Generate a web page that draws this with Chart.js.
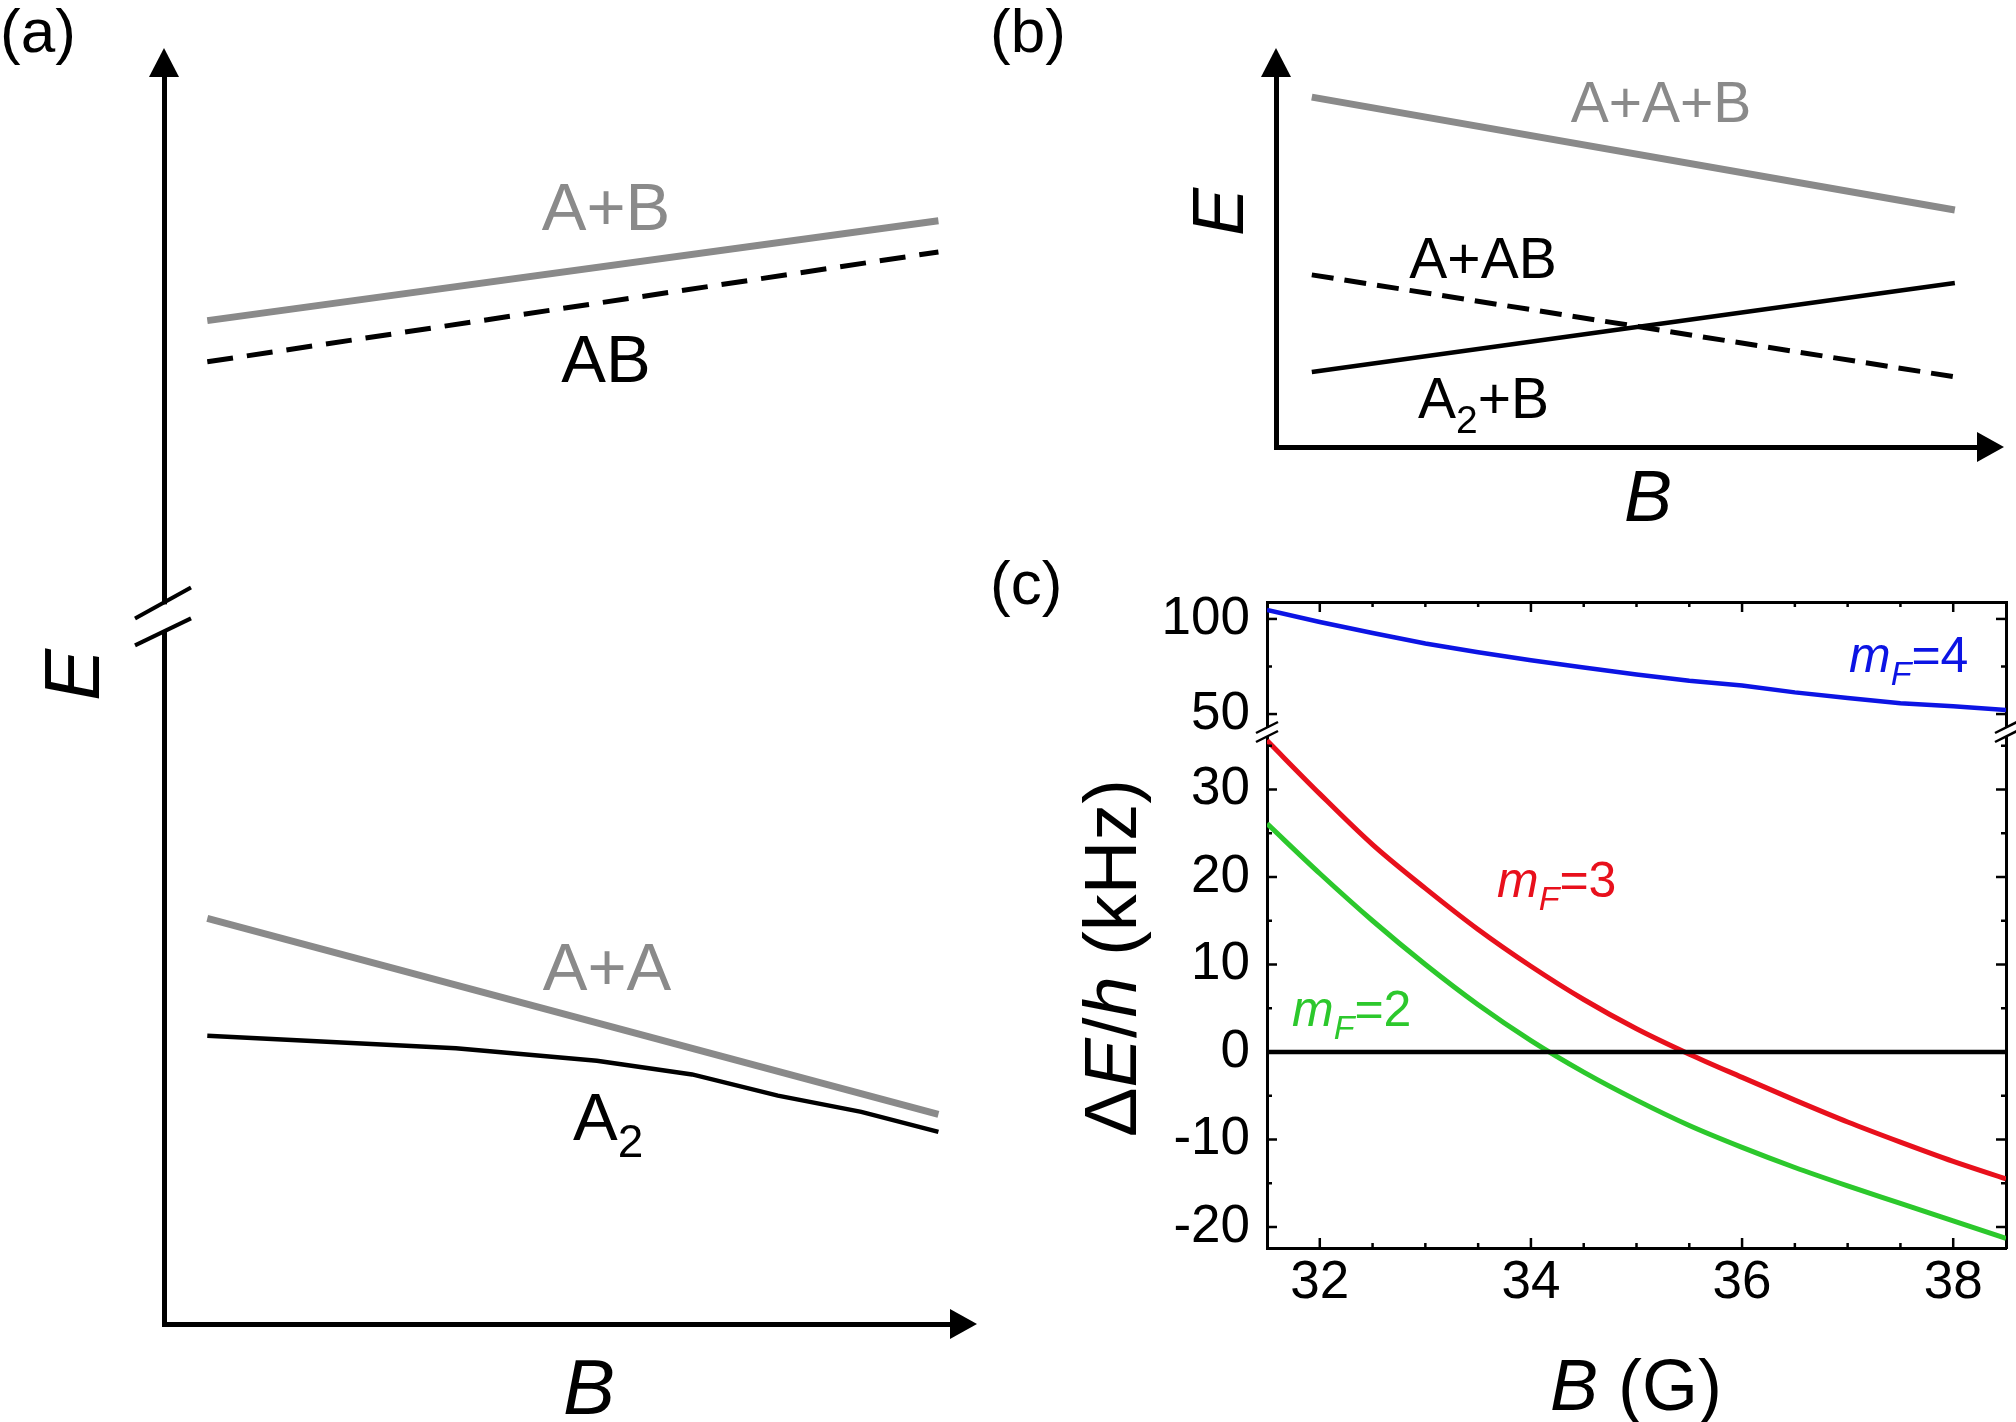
<!DOCTYPE html>
<html>
<head>
<meta charset="utf-8">
<script src="https://cdn.jsdelivr.net/npm/chart.js@4.4.1/dist/chart.umd.min.js"></script>
<style>
  html, body { margin: 0; padding: 0; background: #fff; }
  #wrap { position: relative; width: 2016px; height: 1422px; overflow: hidden; }
  #wrap canvas { position: absolute; left: 0; top: 0; }
</style>
</head>
<body>
<div id="wrap">
  <canvas id="panelA" width="2016" height="1422"></canvas>
  <canvas id="panelB" width="2016" height="1422"></canvas>
  <canvas id="panelCTop" width="2016" height="1422"></canvas>
  <canvas id="panelCBottom" width="2016" height="1422"></canvas>
</div>
<script>
// (a) schematic: energies vs B, arbitrary units (x 0-10, E 0-100)
const aField = [0.55, 9.84];
const aEnergyAplusB = [80.4, 88.4];
const aEnergyAB = [77.1, 85.9];
const aEnergyAplusA = [32.5, 16.8];
const aFieldA2 = [0.55, 3.71, 5.50, 6.71, 7.80, 8.86, 9.84];
const aEnergyA2 = [23.1, 22.1, 21.1, 20.0, 18.3, 17.0, 15.4];
const aBreakE = 56.7;

// (b) schematic
const bField = [0.51, 9.67];
const bEnergyAAB = [94.3, 63.9];
const bEnergyA_AB = [46.4, 18.9];
const bEnergyA2_B = [20.2, 44.2];

// (c) shifts in kHz vs B in G
const cField = [31.5, 32, 32.5, 33, 33.5, 34, 34.5, 35, 35.5, 36, 36.5, 37, 37.5, 38, 38.5];
const cShiftMf4 = [104.7, 98.4, 92.6, 87.1, 82.5, 78.3, 74.5, 70.8, 67.5, 65.0, 61.4, 58.5, 55.7, 54.1, 52.1];
const cShiftMf3 = [35.6, 29.5, 23.7, 18.7, 14.0, 9.8, 6.0, 2.65, -0.25, -2.9, -5.5, -8.0, -10.3, -12.5, -14.5];
const cShiftMf2 = [26.1, 20.4, 15.0, 10.0, 5.4, 1.3, -2.3, -5.5, -8.4, -10.9, -13.2, -15.3, -17.3, -19.3, -21.3];
const cXLabels = [32, 34, 36, 38];
const cXTickMarks = [32, 32.5, 33, 33.5, 34, 34.5, 35, 35.5, 36, 36.5, 37, 37.5, 38];
const cYLabelsTop = [50, 100];
const cYTickMarksTop = [50, 75, 100];
const cYLabelsBottom = [-20, -10, 0, 10, 20, 30];
const cYTickMarksBottom = [-20, -15, -10, -5, 0, 5, 10, 15, 20, 25, 30, 35];

const FONT = "'Liberation Sans', Arial, Helvetica, sans-serif";
const GRAY = '#8a8a8a';
const BLUE = '#0c14e4';
const RED = '#e8101c';
const GREEN = '#2cc82c';

Chart.defaults.font.family = FONT;
Chart.defaults.color = '#000';

const fitTo = size => s => { if (s.isHorizontal()) s.height = size; else s.width = size; };

function ds(xs, ys, color, width, dash, smooth) {
  return {
    data: xs.map((x, i) => ({x: x, y: ys[i]})),
    borderColor: color,
    borderWidth: width,
    borderDash: dash || [],
    borderCapStyle: 'butt',
    pointRadius: 0,
    fill: false,
    tension: smooth ? 0.4 : 0,
    cubicInterpolationMode: smooth ? 'monotone' : 'default',
    xAxisID: 'x',
    yAxisID: 'y'
  };
}

function baseOptions(pad) {
  return {
    responsive: false,
    animation: false,
    devicePixelRatio: 1,
    events: [],
    layout: {padding: pad},
    plugins: {legend: {display: false}, tooltip: {enabled: false}, title: {display: false}}
  };
}

function plainAxis(min, max, position, width) {
  return {
    type: 'linear', position: position, min: min, max: max,
    ticks: {display: false},
    grid: {display: false, drawTicks: false},
    border: {display: true, color: '#000', width: width},
    afterFit: fitTo(0)
  };
}

// labelled axes keep a fixed box size (labels are clipped to the scale box)
function frameAxis(min, max, position, marks, labels, pad, box) {
  return {
    type: 'linear', position: position, min: min, max: max,
    grid: {display: false, drawTicks: false},
    border: {display: true, color: '#000', width: 3},
    ticks: {
      display: !!labels, autoSkip: false, maxRotation: 0, padding: pad || 0,
      color: '#000', font: {size: 53},
      callback: v => (labels && labels.includes(v)) ? String(v) : ''
    },
    afterBuildTicks: s => { s.ticks = marks.map(v => ({value: v})); },
    afterFit: fitTo(box || 0)
  };
}

function rich(ctx, parts, x, y, size, align, color) {
  const f = p => (p.i ? 'italic ' : '') + (p.s ? Math.round(size * 0.68) : size) + 'px ' + FONT;
  let w = 0;
  parts.forEach(p => { ctx.font = f(p); w += ctx.measureText(p.t).width; });
  let cx = align === 'center' ? x - w / 2 : x;
  ctx.fillStyle = color;
  ctx.textAlign = 'left';
  ctx.textBaseline = 'alphabetic';
  parts.forEach(p => {
    ctx.font = f(p);
    ctx.fillText(p.t, cx, y + (p.s ? size * 0.26 : 0));
    cx += ctx.measureText(p.t).width;
  });
}

function richUp(ctx, parts, cx, cy, size, color) {
  ctx.save();
  ctx.translate(cx, cy);
  ctx.rotate(-Math.PI / 2);
  rich(ctx, parts, 0, size * 0.36, size, 'center', color);
  ctx.restore();
}

function seg(ctx, x1, y1, x2, y2) {
  ctx.beginPath(); ctx.moveTo(x1, y1); ctx.lineTo(x2, y2); ctx.stroke();
}

function arrows(ctx, a) {
  ctx.fillStyle = '#000';
  ctx.beginPath();
  ctx.moveTo(a.left, a.top - 28); ctx.lineTo(a.left - 15, a.top + 1); ctx.lineTo(a.left + 15, a.top + 1);
  ctx.closePath(); ctx.fill();
  ctx.beginPath();
  ctx.moveTo(a.right + 26, a.bottom); ctx.lineTo(a.right - 1, a.bottom - 15); ctx.lineTo(a.right - 1, a.bottom + 15);
  ctx.closePath(); ctx.fill();
}

const innerTicks = majors => ({
  id: 'innerTicks',
  afterDraw(chart) {
    const ctx = chart.ctx, a = chart.chartArea;
    ctx.save();
    ctx.strokeStyle = '#000';
    ctx.lineWidth = 2.5;
    Object.keys(majors).forEach(id => {
      const s = chart.scales[id];
      const pos = s.options.position;
      s.ticks.forEach(t => {
        const len = majors[id].includes(t.value) ? 10 : 5;
        const p = s.getPixelForValue(t.value);
        if (pos === 'left') seg(ctx, a.left, p, a.left + len, p);
        else if (pos === 'right') seg(ctx, a.right, p, a.right - len, p);
        else if (pos === 'bottom') seg(ctx, p, a.bottom, p, a.bottom - len);
        else seg(ctx, p, a.top, p, a.top + len);
      });
    });
    ctx.restore();
  }
});

// ---------- panel (a)
const panelADeco = {
  id: 'panelADeco',
  afterDraw(chart) {
    const ctx = chart.ctx, a = chart.chartArea;
    ctx.save();
    arrows(ctx, a);
    const yb = chart.scales.y.getPixelForValue(aBreakE);
    ctx.fillStyle = '#fff';
    ctx.fillRect(a.left - 6, yb - 12, 12, 26);
    ctx.strokeStyle = '#000';
    ctx.lineWidth = 4;
    seg(ctx, a.left - 29, yb + 2, a.left + 27, yb - 29);
    seg(ctx, a.left - 29, yb + 29, a.left + 27, yb + 2);

    rich(ctx, [{t: 'A+B'}], 606, 230, 67, 'center', GRAY);
    rich(ctx, [{t: 'AB'}], 606, 382, 67, 'center', '#000');
    rich(ctx, [{t: 'A+A'}], 607, 990, 67, 'center', GRAY);
    rich(ctx, [{t: 'A'}, {t: '2', s: 1}], 573, 1140, 67, 'left', '#000');
    richUp(ctx, [{t: 'E', i: 1}], 71, 675, 78, '#000');
    rich(ctx, [{t: 'B', i: 1}], 589, 1414, 78, 'center', '#000');
    rich(ctx, [{t: '(a)'}], 0, 52, 62, 'left', '#000');
    ctx.restore();
  }
};

new Chart(document.getElementById('panelA'), {
  type: 'line',
  data: {datasets: [
    ds(aField, aEnergyAplusB, GRAY, 7),
    ds(aField, aEnergyAB, '#000', 5, [26, 14]),
    ds(aField, aEnergyAplusA, GRAY, 7),
    ds(aFieldA2, aEnergyA2, '#000', 4.5)
  ]},
  options: Object.assign(baseOptions({left: 164, right: 1065, top: 76, bottom: 98}), {
    scales: {x: plainAxis(0, 10, 'bottom', 5), y: plainAxis(0, 100, 'left', 5)}
  }),
  plugins: [panelADeco]
});

// ---------- panel (b)
const panelBDeco = {
  id: 'panelBDeco',
  afterDraw(chart) {
    const ctx = chart.ctx, a = chart.chartArea;
    ctx.save();
    arrows(ctx, a);
    rich(ctx, [{t: 'A+A+B'}], 1661, 122, 57, 'center', GRAY);
    rich(ctx, [{t: 'A+AB'}], 1483, 278, 57, 'center', '#000');
    rich(ctx, [{t: 'A'}, {t: '2', s: 1}, {t: '+B'}], 1418, 418, 57, 'left', '#000');
    richUp(ctx, [{t: 'E', i: 1}], 1217, 212, 72, '#000');
    rich(ctx, [{t: 'B', i: 1}], 1648, 521, 72, 'center', '#000');
    rich(ctx, [{t: '(b)'}], 990, 52, 62, 'left', '#000');
    ctx.restore();
  }
};

new Chart(document.getElementById('panelB'), {
  type: 'line',
  data: {datasets: [
    ds(bField, bEnergyAAB, GRAY, 7),
    ds(bField, bEnergyA_AB, '#000', 5, [22, 11]),
    ds(bField, bEnergyA2_B, '#000', 4.5)
  ]},
  options: Object.assign(baseOptions({left: 1276, right: 38, top: 76, bottom: 975}), {
    scales: {x: plainAxis(0, 10, 'bottom', 5), y: plainAxis(0, 100, 'left', 5)}
  }),
  plugins: [panelBDeco]
});

// ---------- panel (c), upper part of broken axis
new Chart(document.getElementById('panelCTop'), {
  type: 'line',
  data: {datasets: [ds(cField, cShiftMf4, BLUE, 4.5)]},
  options: Object.assign(baseOptions({left: 1117, right: 10, top: 602, bottom: 695}), {
    scales: {
      x: frameAxis(31.5, 38.5, 'top', cXTickMarks, null),
      y: frameAxis(43.2, 108.9, 'left', cYTickMarksTop, cYLabelsTop, 17, 150),
      y2: frameAxis(43.2, 108.9, 'right', cYTickMarksTop, null)
    }
  }),
  plugins: [innerTicks({x: cXLabels, y: cYLabelsTop, y2: cYLabelsTop})]
});

// ---------- panel (c), lower part
const panelCDeco = {
  id: 'panelCDeco',
  afterDraw(chart) {
    const ctx = chart.ctx, a = chart.chartArea;
    ctx.save();
    const yc = a.top - 5;
    ctx.strokeStyle = '#000';
    ctx.lineWidth = 2.5;
    [a.left, a.right].forEach(x => {
      seg(ctx, x - 11, yc + 1, x + 11, yc - 10);
      seg(ctx, x - 11, yc + 10, x + 11, yc - 1);
    });
    rich(ctx, [{t: 'm', i: 1}, {t: 'F', i: 1, s: 1}, {t: '=4'}], 1849, 672, 50, 'left', BLUE);
    rich(ctx, [{t: 'm', i: 1}, {t: 'F', i: 1, s: 1}, {t: '=3'}], 1497, 897, 50, 'left', RED);
    rich(ctx, [{t: 'm', i: 1}, {t: 'F', i: 1, s: 1}, {t: '=2'}], 1292, 1026, 50, 'left', GREEN);
    richUp(ctx, [{t: '\u0394'}, {t: 'E', i: 1}, {t: '/'}, {t: 'h', i: 1}, {t: ' (kHz)'}], 1109, 958, 74, '#000');
    rich(ctx, [{t: 'B', i: 1}, {t: ' (G)'}], 1636, 1410, 72, 'center', '#000');
    rich(ctx, [{t: '(c)'}], 990, 604, 62, 'left', '#000');
    ctx.restore();
  }
};

new Chart(document.getElementById('panelCBottom'), {
  type: 'line',
  data: {datasets: [
    ds([31.5, 38.5], [0, 0], '#000', 4.5),
    ds(cField, cShiftMf3, RED, 5, null, true),
    ds(cField, cShiftMf2, GREEN, 5, null, true)
  ]},
  options: Object.assign(baseOptions({left: 1117, right: 10, top: 737, bottom: 74}), {
    scales: {
      x: frameAxis(31.5, 38.5, 'bottom', cXTickMarks, cXLabels, 4, 100),
      y: frameAxis(-22.4, 36.0, 'left', cYTickMarksBottom, cYLabelsBottom, 17, 150),
      y2: frameAxis(-22.4, 36.0, 'right', cYTickMarksBottom, null)
    }
  }),
  plugins: [innerTicks({x: cXLabels, y: cYLabelsBottom, y2: cYLabelsBottom}), panelCDeco]
});
</script>
</body>
</html>
